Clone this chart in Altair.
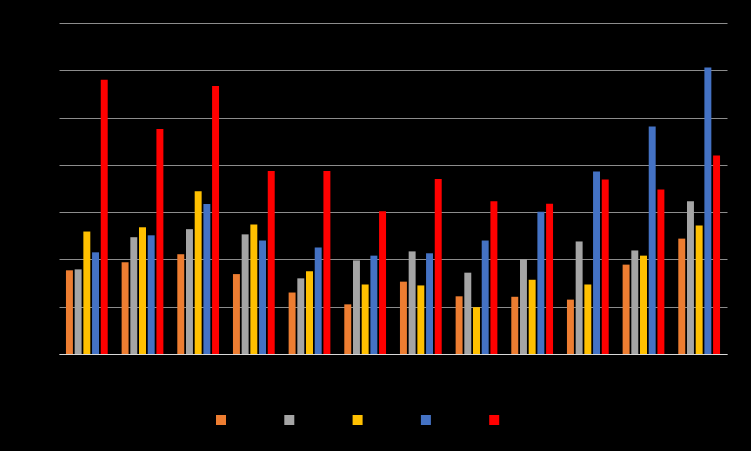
import altair as alt
import pandas as pd

categories = [f"Category {i}" for i in range(1, 13)]
series_names = ["Series 1", "Series 2", "Series 3", "Series 4", "Series 5"]
s1 = [17.7, 19.4, 21.1, 16.9, 13.0, 10.5, 15.3, 12.2, 12.1, 11.5, 18.9, 24.4]
s2 = [17.9, 24.7, 26.4, 25.3, 16.0, 19.8, 21.7, 17.2, 20.0, 23.8, 21.9, 32.3]
s3 = [25.9, 26.8, 34.4, 27.4, 17.5, 14.7, 14.5, 9.9, 15.7, 14.7, 20.8, 27.2]
s4 = [21.5, 25.1, 31.7, 24.0, 22.5, 20.8, 21.3, 24.0, 30.1, 38.6, 48.1, 60.6]
s5 = [58.0, 47.6, 56.7, 38.7, 38.7, 30.2, 37.0, 32.3, 31.8, 36.9, 34.8, 42.0]
colors = ["#ED7D31", "#A5A5A5", "#FFC000", "#4472C4", "#FF0000"]

rows = []
for name, vals in zip(series_names, [s1, s2, s3, s4, s5]):
    for c, v in zip(categories, vals):
        rows.append({"category": c, "series": name, "value": v})
df = pd.DataFrame(rows)

chart = alt.Chart(df).mark_bar().encode(
    x=alt.X("category:N", sort=categories,
            scale=alt.Scale(paddingInner=0.25, paddingOuter=0.125),
            axis=alt.Axis(title=None, labelColor="#000000", labelAngle=0, labelFontSize=9,
                          ticks=False, domainColor="#d9d9d9", domainWidth=1, grid=False)),
    xOffset=alt.XOffset("series:N", sort=series_names,
                        scale=alt.Scale(paddingInner=0.2)),
    y=alt.Y("value:Q", scale=alt.Scale(domain=[0, 70], nice=False),
            axis=alt.Axis(title=None, values=[0, 10, 20, 30, 40, 50, 60, 70],
                          labelColor="#000000", domain=False, ticks=False,
                          gridColor="#8c8c8c", gridWidth=1)),
    color=alt.Color("series:N", sort=series_names,
                    scale=alt.Scale(domain=series_names, range=colors),
                    legend=alt.Legend(title=None, orient="none", legendX=157, legendY=392,
                                      direction="horizontal", symbolType="square",
                                      symbolSize=100, symbolStrokeWidth=0,
                                      labelColor="#000000", labelFontSize=10,
                                      columnPadding=17.3)),
).properties(
    width=668, height=331,
    background="#000000",
    autosize=alt.AutoSizeParams(type="none"),
    padding={"left": 59, "top": 23, "right": 24, "bottom": 97},
).configure_view(stroke=None)

chart.save("out.html", embed_options={"renderer": "svg", "actions": False})
